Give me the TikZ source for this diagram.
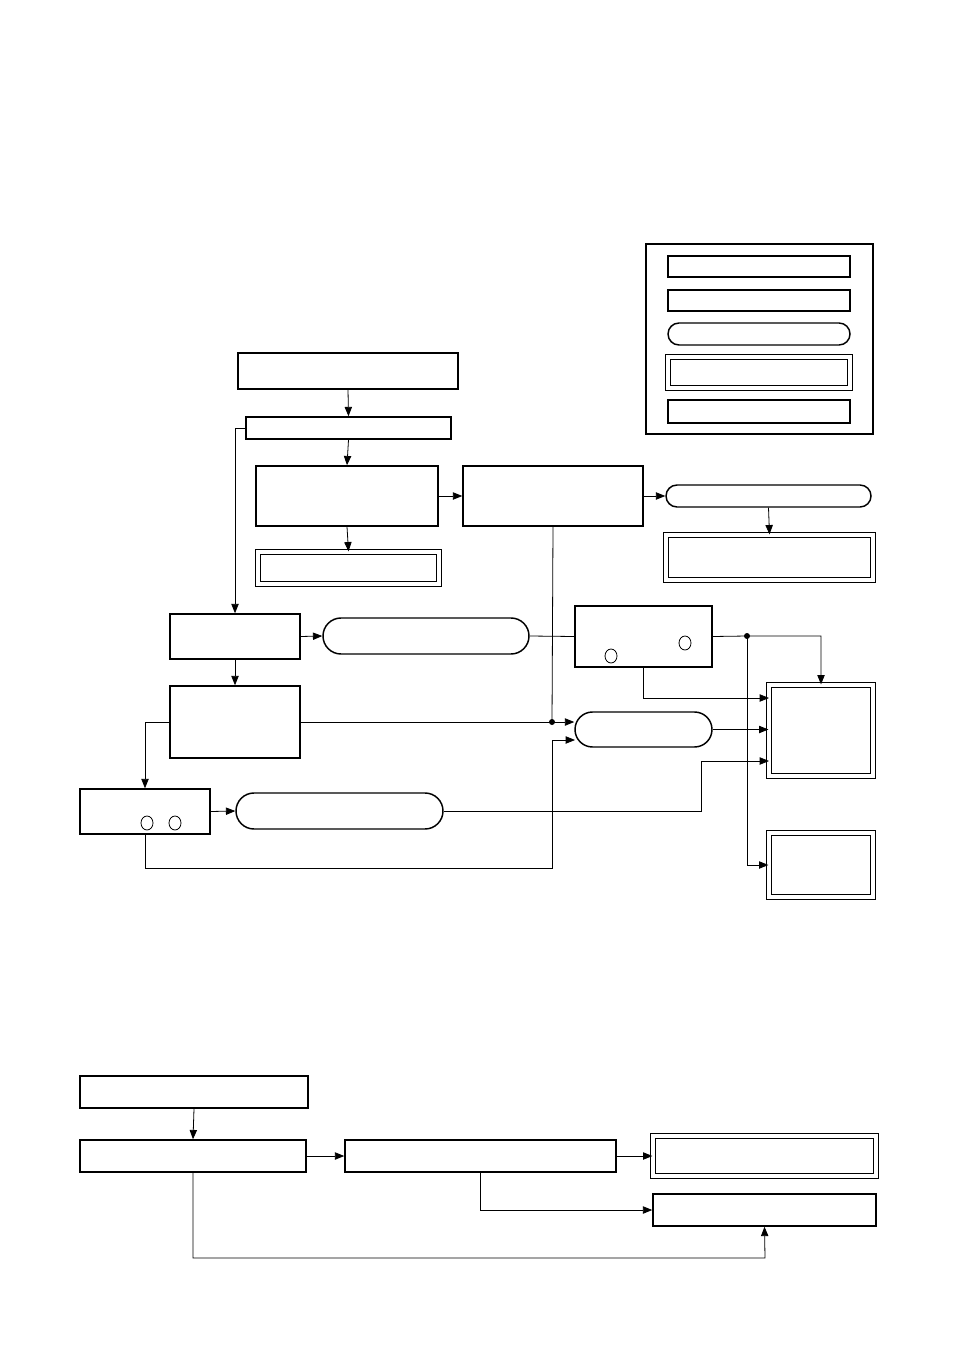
\documentclass[tikz,border=0pt]{standalone}
\usepackage{tikz}
\usetikzlibrary{arrows.meta,shapes.misc}
\tikzset{%
  tipA/.tip={Triangle[length=7pt,width=5.5pt]},
  plainbox/.style={draw, line width=1.1pt, inner sep=0pt, rectangle},
  hexbox/.style={draw, line width=1.1pt, inner sep=0pt, chamfered rectangle, chamfered rectangle ysep=#1},
  pillbox/.style={draw, line width=1.1pt, inner sep=0pt, rounded rectangle},
  dblbox/.style={draw, line width=0.9pt, double, double distance=2.4pt, inner sep=0pt, rectangle},
  cardbox/.style={draw, line width=1.1pt, inner sep=0pt, chamfered rectangle, chamfered rectangle corners=north west},
  link/.style={line width=0.6pt, -tipA},
  wire/.style={line width=0.6pt}
}
\newcommand{\px}[1]{#1*0.75pt}

\begin{document}
\begin{tikzpicture}[x=0.75pt,y=-0.75pt]
\useasboundingbox (0,0) rectangle (954,1351);
% legend
\draw[line width=1.2pt] (646,244) rectangle (873,434);
\node[plainbox, minimum width=\px{182}, minimum height=\px{21}] (lg1) at (759,266.5) {};
\node[hexbox=\px{10.5}, chamfered rectangle xsep=\px{6}, minimum width=\px{182}, minimum height=\px{21}] (lg2) at (759,300.5) {};
\node[pillbox, minimum width=\px{182}, minimum height=\px{22}] (lg3) at (759,334) {};
\node[dblbox, minimum width=\px{182}, minimum height=\px{31}] (lg4) at (759,372.5) {};
\node[cardbox, chamfered rectangle xsep=\px{12}, chamfered rectangle ysep=\px{8}, minimum width=\px{182}, minimum height=\px{23}] (lg5) at (759,411.5) {};
% upper chart
\node[plainbox, minimum width=\px{220}, minimum height=\px{36}] (start) at (348,371) {};
\node[hexbox=\px{11}, chamfered rectangle xsep=\px{6}, minimum width=\px{205}, minimum height=\px{22}] (A) at (348.5,428) {};
\node[hexbox=\px{30}, chamfered rectangle xsep=\px{20}, minimum width=\px{182}, minimum height=\px{60}] (B) at (347,496) {};
\node[hexbox=\px{30}, chamfered rectangle xsep=\px{20}, minimum width=\px{180}, minimum height=\px{60}] (C) at (553,496) {};
\node[pillbox, minimum width=\px{205}, minimum height=\px{22}] (D) at (768.5,496) {};
\node[dblbox, minimum width=\px{207}, minimum height=\px{45}] (E) at (769.5,557.5) {};
\node[dblbox, minimum width=\px{181}, minimum height=\px{32}] (F) at (348.5,568) {};
\node[hexbox=\px{22.5}, chamfered rectangle xsep=\px{15}, minimum width=\px{130}, minimum height=\px{45}] (G) at (235,636.5) {};
\node[pillbox, minimum width=\px{206}, minimum height=\px{36}] (H) at (426,636) {};
\node[hexbox=\px{30.5}, chamfered rectangle xsep=\px{20}, minimum width=\px{137}, minimum height=\px{61}] (I) at (643.5,636.5) {};
\node[hexbox=\px{36}, chamfered rectangle xsep=\px{17}, minimum width=\px{130}, minimum height=\px{72}] (J) at (235,722) {};
\node[pillbox, minimum width=\px{137}, minimum height=\px{35}] (K) at (643.5,729.5) {};
\node[hexbox=\px{22.5}, chamfered rectangle xsep=\px{10}, minimum width=\px{130}, minimum height=\px{45}] (L) at (145,811.5) {};
\node[pillbox, minimum width=\px{207}, minimum height=\px{36}] (M) at (339.5,811) {};
\node[dblbox, minimum width=\px{104}, minimum height=\px{91}] (N) at (821,730.5) {};
\node[dblbox, minimum width=\px{104}, minimum height=\px{64}] (O) at (821,865) {};
\draw[line width=0.6pt] (611,656) ellipse (6 and 7);
\draw[line width=0.6pt] (685,643) ellipse (6 and 7);
\draw[line width=0.6pt] (147,823) ellipse (6 and 7);
\draw[line width=0.6pt] (175,823) ellipse (6 and 7);
\coordinate (Cdot) at (552,722);
\coordinate (Idot) at (747,636);
\coordinate (Kin) at (575,740);
\coordinate (Lturn) at (552,868);
\coordinate (Nin1) at (769,698);
\coordinate (Mturn) at (701,761);
\coordinate (Nin3) at (769,761);
\draw[link] (start.south) -- (A.north);
\draw[link] (A.south) -- (B.north);
\draw[link] (A.west) -| (G.north);
\draw[link] (B.east) -- (C.west);
\draw[link] (C.east) -- (D.west);
\draw[link] (D.south) -- (E.north);
\draw[link] (B.south) -- (F.north);
\draw[wire] (C.south) -- (Cdot);
\fill (Cdot) circle (3);
\draw[link] (G.east) -- (H.west);
\draw[link] (G.south) -- (J.north);
\draw[wire] (H.east) -- (I.west);
\draw[link] (J.east) -- (J.east -| K.west);
\draw[link] (J.west) -| (L.north);
\draw[link] (L.east) -- (M.west);
\draw[link] (L.south) |- (Lturn) |- (Kin);
\draw[link] (I.east) -- (Idot) -| (N.north);
\fill (Idot) circle (3);
\draw[link] (Idot) |- (O.west);
\draw[link] (I.south) |- (Nin1);
\draw[link] (K.east) -- (K.east -| N.west);
\draw[link] (M.east) -| (Mturn) -- (Nin3);
% lower chart
\node[plainbox, minimum width=\px{228}, minimum height=\px{32}] (P) at (194,1092) {};
\node[hexbox=\px{16}, chamfered rectangle xsep=\px{8}, minimum width=\px{226}, minimum height=\px{32}] (Q) at (193,1156) {};
\node[hexbox=\px{16}, chamfered rectangle xsep=\px{8}, minimum width=\px{271}, minimum height=\px{32}] (R) at (480.5,1156) {};
\node[dblbox, minimum width=\px{223}, minimum height=\px{40}] (S) at (764.5,1156) {};
\node[cardbox, chamfered rectangle xsep=\px{24}, chamfered rectangle ysep=\px{15}, minimum width=\px{223}, minimum height=\px{32}] (T) at (764.5,1210) {};
\coordinate (Qturn) at (765,1258);
\draw[link] (P.south) -- (Q.north);
\draw[link] (Q.east) -- (R.west);
\draw[link] (R.east) -- (S.west);
\draw[link] (R.south) |- (T.west);
\draw[link] (Q.south) |- (Qturn) -- (T.south);
\end{tikzpicture}
\end{document}
